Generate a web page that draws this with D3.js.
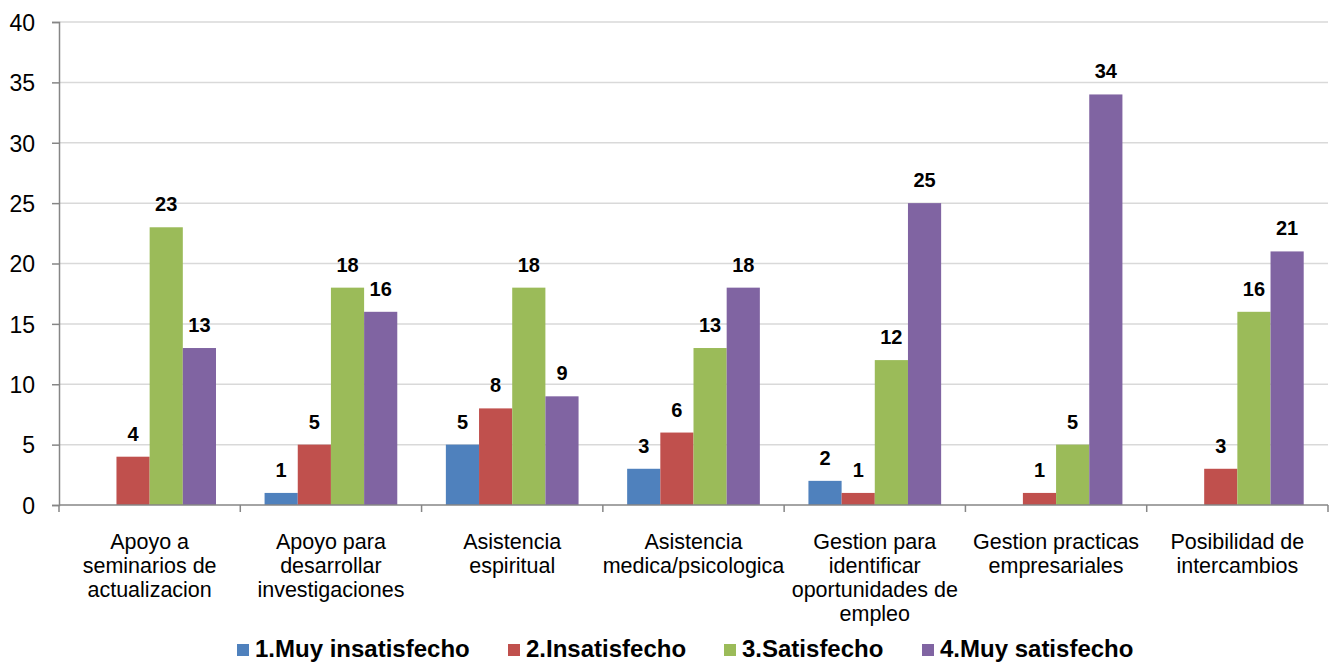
<!DOCTYPE html>
<html><head><meta charset="utf-8">
<script src="https://cdn.jsdelivr.net/npm/d3@7"></script>
<style>body{margin:0;background:#fff}svg{display:block;font-family:"Liberation Sans",Arial,sans-serif}</style>
</head><body><svg id="c" width="1338" height="662"></svg>
<script>
const categories = [
  ["Apoyo a","seminarios de","actualizacion"],
  ["Apoyo para","desarrollar","investigaciones"],
  ["Asistencia","espiritual"],
  ["Asistencia","medica/psicologica"],
  ["Gestion para","identificar","oportunidades de","empleo"],
  ["Gestion practicas","empresariales"],
  ["Posibilidad de","intercambios"]
];
const seriesNames = ["1.Muy insatisfecho","2.Insatisfecho","3.Satisfecho","4.Muy satisfecho"];
const muyInsatisfecho = [null,1,5,3,2,null,null];
const insatisfecho = [4,5,8,6,1,1,3];
const satisfecho = [23,18,18,13,12,5,16];
const muySatisfecho = [13,16,9,18,25,34,21];
const yTicks = [0,5,10,15,20,25,30,35,40];
const colors = ["#4F81BD","#C0504D","#9BBB59","#8064A2"];

const series = [muyInsatisfecho, insatisfecho, satisfecho, muySatisfecho];
const svg = d3.select("#c");
const L = 59, R = 1328, T = 22, B = 505;
const catIdx = d3.range(categories.length);
const x0 = d3.scaleBand().domain(catIdx).range([L,R]).padding(0);
const bw = x0.bandwidth();
const x1 = d3.scaleBand().domain(d3.range(4)).range([bw*0.134, bw*0.866]).padding(0);
const y = d3.scaleLinear().domain([0,40]).range([B,T]);

// gridlines
svg.append("g").selectAll("line").data(yTicks.filter(d=>d>0)).join("line")
  .attr("x1",L).attr("x2",R).attr("y1",d=>y(d)).attr("y2",d=>y(d))
  .attr("stroke","#D9D9D9").attr("stroke-width",1.5);

// bars
const g = svg.append("g");
series.forEach((s,si)=>{
  g.append("g").selectAll("rect").data(s.map((v,i)=>({v,i})).filter(d=>d.v!=null)).join("rect")
    .attr("x",d=>x0(d.i)+x1(si)).attr("width",x1.bandwidth())
    .attr("y",d=>y(d.v)).attr("height",d=>B-y(d.v))
    .attr("fill",colors[si]);
  g.append("g").selectAll("text").data(s.map((v,i)=>({v,i})).filter(d=>d.v!=null)).join("text")
    .attr("x",d=>x0(d.i)+x1(si)+x1.bandwidth()/2)
    .attr("y",d=>y(d.v)-16)
    .attr("text-anchor","middle").attr("font-size",20).attr("font-weight","bold").attr("fill","#000")
    .text(d=>d.v);
});

// y axis
const yAxis = d3.axisLeft(y).tickValues(yTicks).tickSize(7).tickPadding(17);
const ya = svg.append("g").attr("transform",`translate(${L},0)`).call(yAxis);
ya.select(".domain").attr("stroke","#868686").attr("stroke-width",1.5);
ya.selectAll(".tick line").attr("stroke","#868686").attr("stroke-width",1.5);
ya.selectAll(".tick text").attr("font-size",23).attr("fill","#000").attr("font-family","Liberation Sans, Arial, sans-serif").attr("dy","0.36em");

// x axis
svg.append("line").attr("x1",L).attr("x2",R).attr("y1",B).attr("y2",B).attr("stroke","#868686").attr("stroke-width",1.5);
const bounds = catIdx.map(i=>x0(i)).concat([R]);
svg.append("g").selectAll("line").data(bounds).join("line")
  .attr("x1",d=>d).attr("x2",d=>d).attr("y1",B).attr("y2",B+7)
  .attr("stroke","#868686").attr("stroke-width",1.5);
const lab = svg.append("g").selectAll("text").data(catIdx).join("text")
  .attr("x",i=>x0(i)+bw/2).attr("y",548)
  .attr("text-anchor","middle").attr("font-size",21.5).attr("fill","#000");
lab.each(function(i){
  const t = d3.select(this);
  categories[i].forEach((line,k)=>{
    t.append("tspan").attr("x",x0(i)+bw/2).attr("y",549+k*24).text(line);
  });
});

// legend
const legX = [237,508,724,922];
const leg = svg.append("g");
seriesNames.forEach((n,i)=>{
  leg.append("rect").attr("x",legX[i]).attr("y",644).attr("width",12).attr("height",12).attr("fill",colors[i]);
  leg.append("text").attr("x",legX[i]+18).attr("y",657).attr("font-size",24).attr("font-weight","bold").attr("fill","#000").text(n);
});
</script></body></html>
